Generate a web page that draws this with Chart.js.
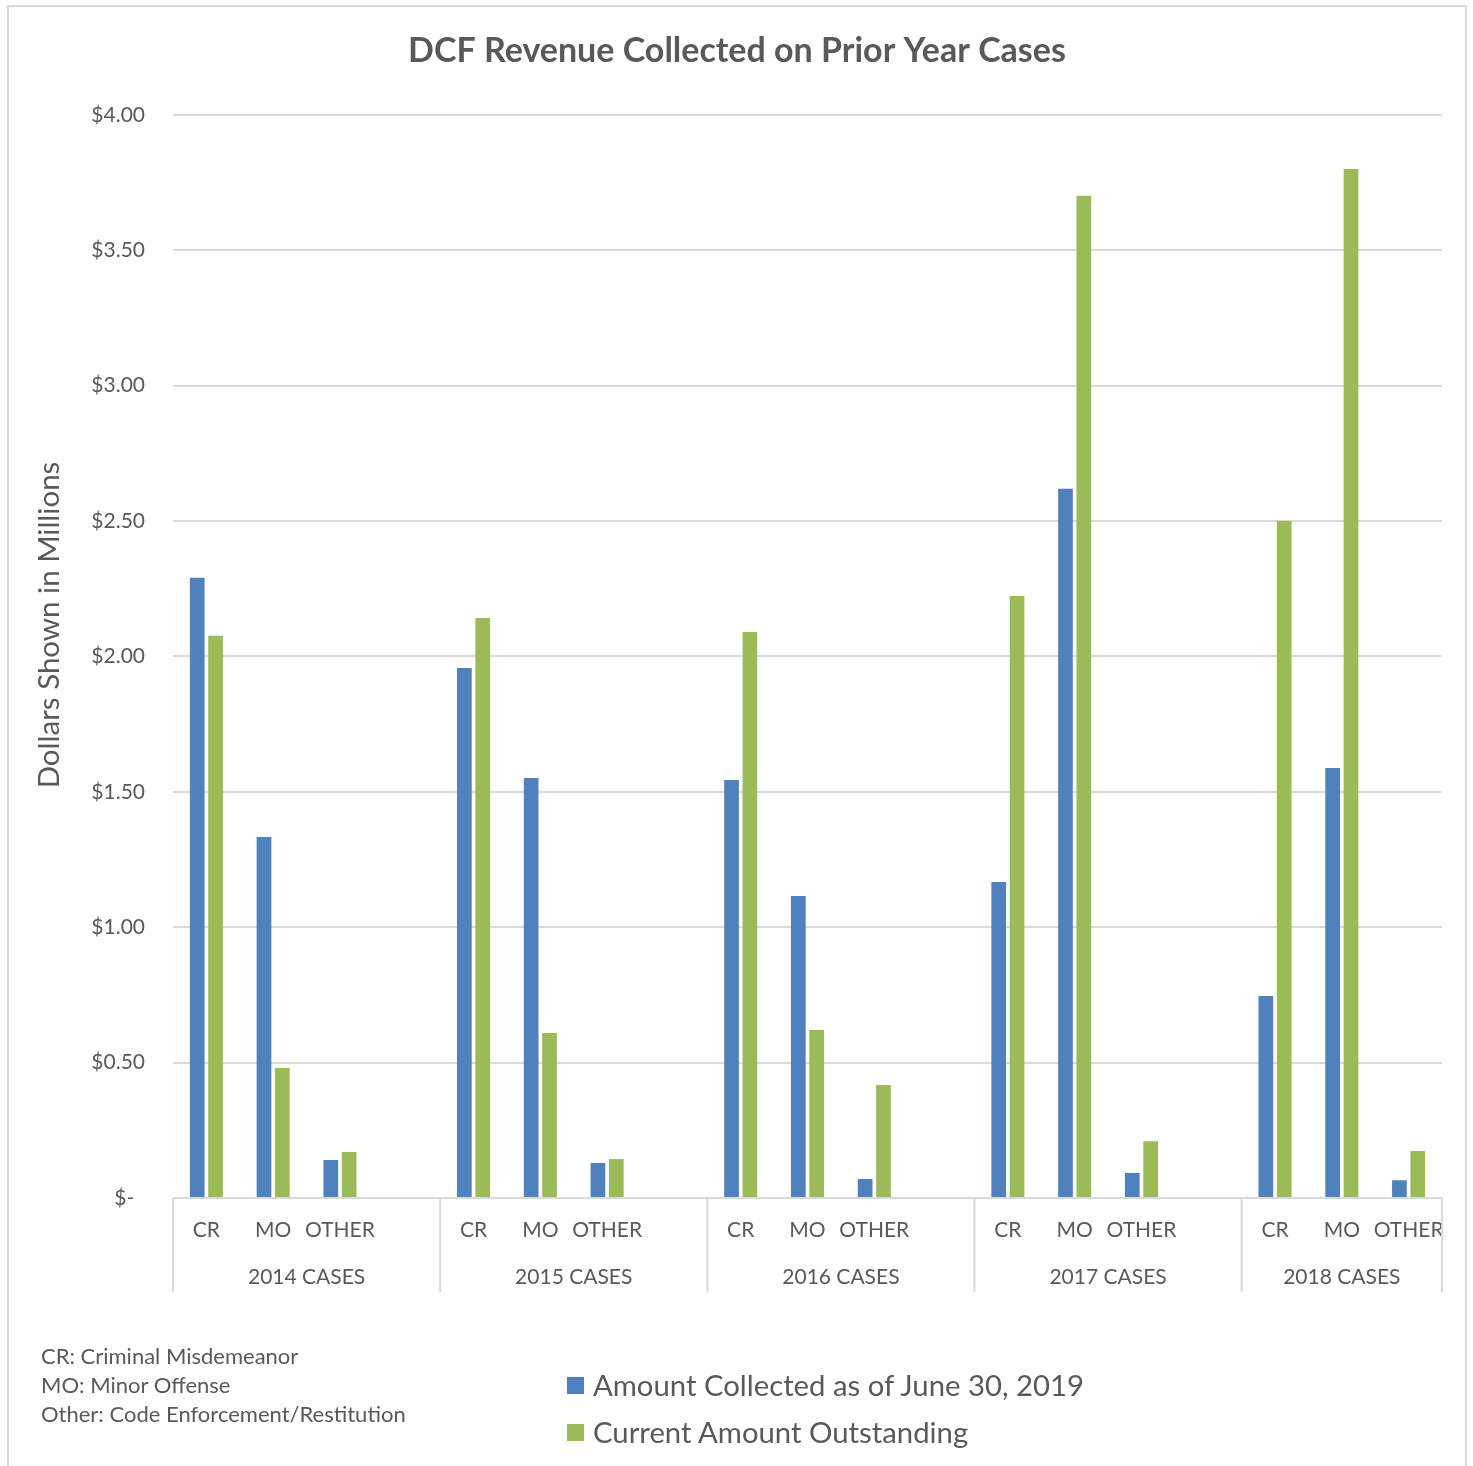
<!DOCTYPE html>
<html><head><meta charset="utf-8">
<script src="https://cdn.jsdelivr.net/npm/chart.js@4"></script>
<style>
html,body{margin:0;padding:0;background:#fff;}
#wrap{position:relative;width:1473px;height:1466px;overflow:hidden;font-family:Lato,sans-serif;color:#595959;background:#fff;}
#frame{position:absolute;left:7px;top:5px;width:1460px;height:1480px;border:2px solid #D9D9D9;box-sizing:border-box;}
#c{position:absolute;left:0;top:0;}
#notes{position:absolute;left:41px;top:1341px;font-size:22px;line-height:29px;white-space:nowrap;}
#legend{position:absolute;left:567px;top:1362px;font-size:29.3px;line-height:47px;white-space:nowrap;}
#legend div{position:relative;height:47px;}
#legend span.sw{position:absolute;left:0;top:15px;width:17px;height:17px;}
#legend span.tx{position:absolute;left:26px;top:-1px;}
</style></head>
<body>
<div id="wrap">
<div id="frame"></div>
<canvas id="c" width="1473" height="1466"></canvas>
<div id="notes"></div>
<div id="legend"></div>
</div>
<script>
// ---- data ----
const chartTitle = 'DCF Revenue Collected on Prior Year Cases';
const yAxisTitle = 'Dollars Shown in Millions';
const categoryLabels = ['CR','MO','OTHER','', 'CR','MO','OTHER','', 'CR','MO','OTHER','', 'CR','MO','OTHER','', 'CR','MO','OTHER'];
const groupLabels = ['2014 CASES','2015 CASES','2016 CASES','2017 CASES','2018 CASES'];
const groupStarts = [0,4,8,12,16];
const groupEnds = [3,7,11,15,18];
const seriesNames = ['Amount Collected as of June 30, 2019','Current Amount Outstanding'];
const amountCollected = [2.29,1.333,0.14,null, 1.957,1.551,0.129,null, 1.544,1.115,0.07,null, 1.167,2.619,0.092,null, 0.746,1.588,0.066];
const amountOutstanding = [2.076,0.48,0.17,null, 2.142,0.609,0.144,null, 2.09,0.62,0.417,null, 2.223,3.701,0.21,null, 2.50,3.80,0.174];
const yTicks = [0,0.5,1,1.5,2,2.5,3,3.5,4];
const notes = ['CR: Criminal Misdemeanor','MO: Minor Offense','Other: Code Enforcement/Restitution'];
const colors = ['#4F81BD','#9BBB59'];

// ---- html text ----
document.getElementById('notes').innerHTML = notes.map(n => '<div>' + n + '</div>').join('');
document.getElementById('legend').innerHTML = seriesNames.map((n,i) =>
  '<div><span class="sw" style="background:' + colors[i] + '"></span><span class="tx">' + n + '</span></div>').join('');

const textColor = '#595959';
const gridColor = '#D9D9D9';

const groupAxisPlugin = {
  id: 'groupAxis',
  afterDraw(chart) {
    const {ctx, chartArea} = chart;
    const x = chart.scales.x;
    const bottom = chartArea.bottom;
    const lineBottom = bottom + 94;
    const half = (x.getPixelForValue(1) - x.getPixelForValue(0)) / 2;
    ctx.save();
    ctx.strokeStyle = gridColor;
    ctx.lineWidth = 2;
    // baseline
    ctx.beginPath();
    ctx.moveTo(chartArea.left, bottom);
    ctx.lineTo(chartArea.right, bottom);
    ctx.stroke();
    const bounds = [];
    groupStarts.forEach((s, i) => {
      const l = x.getPixelForValue(s) - half;
      const r = x.getPixelForValue(groupEnds[i]) + half;
      bounds.push(l);
      if (i === groupStarts.length - 1) bounds.push(r);
      ctx.fillStyle = textColor;
      ctx.font = '21px Lato';
      ctx.textAlign = 'center';
      ctx.textBaseline = 'middle';
      ctx.fillText(groupLabels[i], (l + r) / 2, bottom + 79);
    });
    bounds.forEach(b => {
      ctx.beginPath();
      ctx.moveTo(b, bottom);
      ctx.lineTo(b, lineBottom);
      ctx.stroke();
    });
    // y axis title
    ctx.translate(49, 625);
    ctx.rotate(-Math.PI / 2);
    ctx.font = '29.5px Lato';
    ctx.fillStyle = textColor;
    ctx.textAlign = 'center';
    ctx.textBaseline = 'middle';
    ctx.fillText(yAxisTitle, 0, 0);
    ctx.restore();
  }
};

new Chart(document.getElementById('c'), {
  type: 'bar',
  data: {
    labels: categoryLabels,
    datasets: [
      {label: seriesNames[0], data: amountCollected, backgroundColor: colors[0], borderWidth: 0},
      {label: seriesNames[1], data: amountOutstanding, backgroundColor: colors[1], borderWidth: 0}
    ]
  },
  options: {
    responsive: false,
    animation: false,
    devicePixelRatio: 1,
    categoryPercentage: 0.55,
    barPercentage: 0.8,
    layout: {padding: {left: 32, right: 31, top: 0, bottom: 174}},
    plugins: {
      legend: {display: false},
      tooltip: {enabled: false},
      title: {
        display: true, text: chartTitle, color: textColor,
        font: {family: 'Lato', size: 34, weight: 'bold'},
        padding: {top: 31, bottom: 43}
      }
    },
    scales: {
      x: {
        offset: true,
        grid: {display: false},
        border: {display: false},
        ticks: {color: textColor, font: {family: 'Lato', size: 21}, padding: 12, maxRotation: 0, autoSkip: false},
        afterFit(s) { s.height = 94; }
      },
      y: {
        min: 0, max: 4,
        afterBuildTicks(s) { s.ticks = yTicks.map(v => ({value: v})); },
        grid: {color: gridColor, lineWidth: 2, drawTicks: false},
        border: {display: false},
        ticks: {
          color: textColor, font: {family: 'Lato', size: 21}, padding: 28,
          callback: v => v === 0 ? '$-  ' : '$' + v.toFixed(2)
        },
        afterFit(s) { s.width = 141; }
      }
    }
  },
  plugins: [groupAxisPlugin]
});
</script>
</body></html>
